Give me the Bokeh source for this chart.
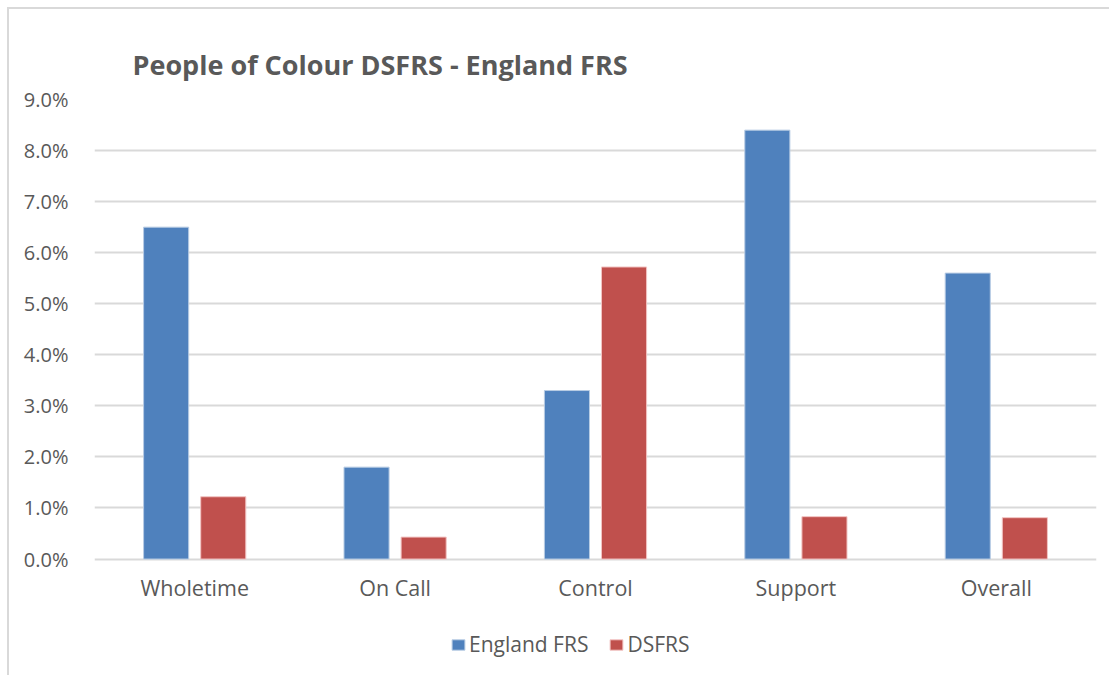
from bokeh.plotting import figure
from bokeh.models import (ColumnDataSource, FactorRange, Range1d, FixedTicker,
                          PrintfTickFormatter, Legend, LegendItem)
from bokeh.core.properties import value
from bokeh.transform import dodge
from bokeh.embed import file_html
from bokeh.resources import INLINE

categories = ["Wholetime", "On Call", "Control", "Support", "Overall"]
england_frs = [6.5, 1.8, 3.3, 8.4, 5.6]
dsfrs = [1.22, 0.43, 5.72, 0.83, 0.81]
y_ticks = [0, 1, 2, 3, 4, 5, 6, 7, 8, 9]

source = ColumnDataSource(data=dict(cat=categories, eng=england_frs, ds=dsfrs,
                                    lab_y=[-0.55] * len(categories)))

FONT = "Open Sans"
GREY = "#595959"

p = figure(x_range=FactorRange(*categories), y_range=Range1d(-2.32, 9),
           width=1102, height=668, output_backend="svg", toolbar_location=None,
           min_border_left=85, min_border_right=15, min_border_top=90,
           min_border_bottom=0)
p.margin = (7, 0, 0, 7)
p.styles = {"border-left": "2px solid #d9d9d9", "border-top": "2px solid #d9d9d9",
            "box-sizing": "border-box"}

p.title.text = "People of Colour DSFRS - England FRS"
p.title.text_font = FONT
p.title.text_font_size = "27px"
p.title.text_font_style = "bold"
p.title.text_color = GREY
p.title.offset = 38
p.title.standoff = 33

r1 = p.vbar(x=dodge("cat", -0.1425, range=p.x_range), top="eng", width=0.225,
            source=source, color="#4f81bd", line_color="#b8cce4", line_width=1)
r2 = p.vbar(x=dodge("cat", 0.1425, range=p.x_range), top="ds", width=0.225,
            source=source, color="#c0504d", line_color="#f2c4c3", line_width=1)

p.text(x="cat", y="lab_y", text="cat", source=source, text_font=value(FONT),
       text_font_size="21.5px", text_color=GREY, text_align="center",
       text_baseline="middle")

p.outline_line_color = None
p.background_fill_color = "white"
p.border_fill_color = "white"

p.xaxis.visible = False
p.xgrid.grid_line_color = None
p.ygrid.grid_line_color = "#d9d9d9"
p.ygrid.grid_line_width = 2
p.ygrid.ticker = FixedTicker(ticks=y_ticks)
p.yaxis.ticker = FixedTicker(ticks=y_ticks)
p.yaxis.formatter = PrintfTickFormatter(format="%.1f%%")
p.yaxis.axis_line_color = None
p.yaxis.major_tick_line_color = None
p.yaxis.minor_tick_line_color = None
p.yaxis.major_label_text_font = FONT
p.yaxis.major_label_text_color = GREY
p.yaxis.major_label_text_font_size = "20px"
p.yaxis.major_label_standoff = 20

legend = Legend(items=[LegendItem(label="England FRS", renderers=[r1]),
                       LegendItem(label="DSFRS", renderers=[r2])],
                location=(356, 19), orientation="horizontal")
legend.label_text_font = FONT
legend.label_text_font_size = "21px"
legend.label_text_color = GREY
legend.glyph_width = 16
legend.glyph_height = 13
legend.label_standoff = 3
legend.spacing = 20
legend.padding = 0
legend.margin = 0
legend.border_line_color = None
legend.background_fill_alpha = 0
p.add_layout(legend, "center")

open("out.html", "w").write(file_html(p, INLINE))
